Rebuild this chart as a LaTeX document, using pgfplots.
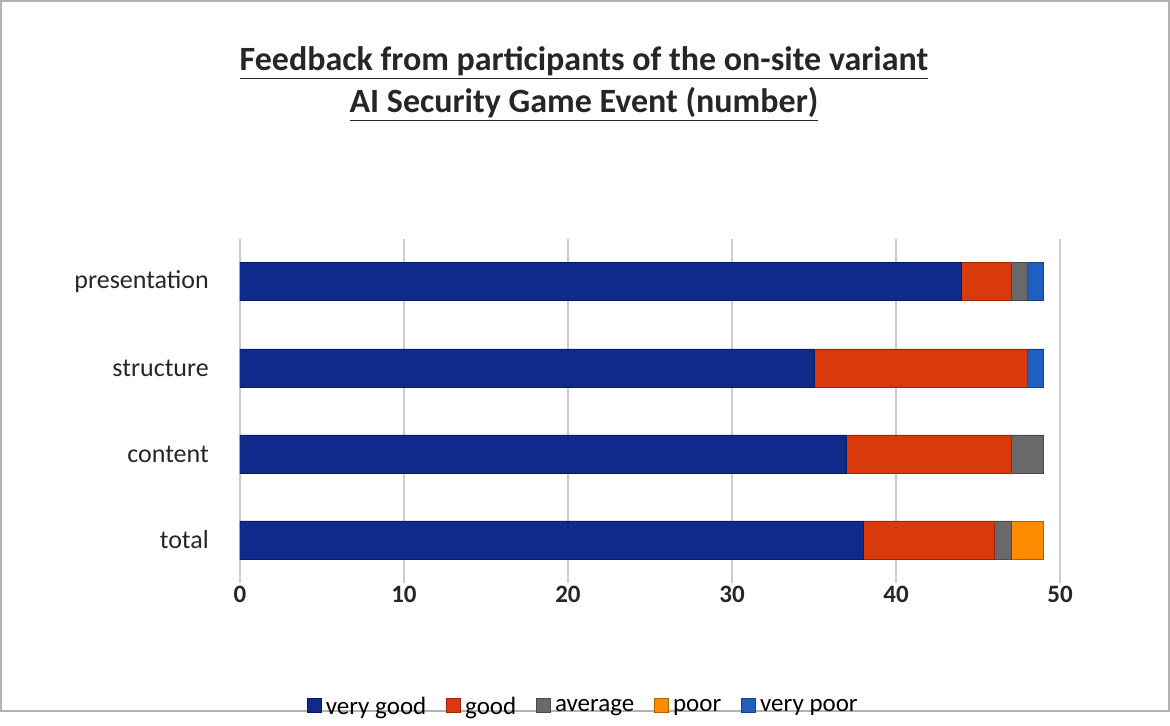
\documentclass[border=0pt]{standalone}
\usepackage{pgfplots}
\pgfplotsset{compat=1.18}
\usepackage{fontspec}
\setmainfont{Carlito}
\definecolor{vg}{RGB}{16,42,140}
\definecolor{gd}{RGB}{216,58,12}
\definecolor{av}{RGB}{105,105,105}
\definecolor{pr}{RGB}{255,140,0}
\definecolor{vp}{RGB}{31,95,192}
\begin{document}
\begin{tikzpicture}[x=1pt,y=1pt]
\draw[gray!60,line width=0.8pt] (0.5,0.5) rectangle (584.5,355.5);
\node[font=\bfseries\fontsize{17}{21}\selectfont,align=center,text=black!85] at (292,314)
 {\underline{Feedback from participants of the on-site variant}\\\underline{AI Security Game Event (number)}};
\begin{axis}[at={(120pt,86pt)},anchor=origin,scale only axis,width=410pt,height=172pt,
 xbar stacked, bar width=19pt,
 xmin=0,xmax=50,ymin=-0.5,ymax=3.5,
 ytick={0,1,2,3},yticklabels={total,content,structure,presentation},
 xtick={0,10,20,30,40,50},
 xmajorgrids, grid style={gray!40,line width=0.8pt},
 axis line style={draw=none}, tick style={draw=none},
 ticklabel style={font=\fontsize{13}{15}\selectfont,text=black!85},
 xticklabel style={font=\bfseries\fontsize{12.5}{15}\selectfont},
 /pgf/number format/assume math mode=true,
 xticklabel shift=-2pt, yticklabel shift=12pt,
 legend style={at={(0.42,-0.36)},anchor=center,draw=none,fill=none,legend columns=-1,
   font=\fontsize{12.5}{15}\selectfont,/tikz/every even column/.append style={column sep=8pt}},
 legend image code/.code={\fill[#1] (0pt,-3pt) rectangle (7pt,4pt);},
]
\addplot[fill=vg,draw=vg!70!black] coordinates {(38,0) (37,1) (35,2) (44,3)};
\addplot[fill=gd,draw=gd!70!black] coordinates {(8,0) (10,1) (13,2) (3,3)};
\addplot[fill=av,draw=av!70!black] coordinates {(1,0) (2,1) (0,2) (1,3)};
\addplot[fill=pr,draw=pr!70!black] coordinates {(2,0) (0,1) (0,2) (0,3)};
\addplot[fill=vp,draw=vp!70!black] coordinates {(0,0) (0,1) (1,2) (1,3)};
\legend{very good,good,average,poor,very poor}
\end{axis}
\end{tikzpicture}
\end{document}
